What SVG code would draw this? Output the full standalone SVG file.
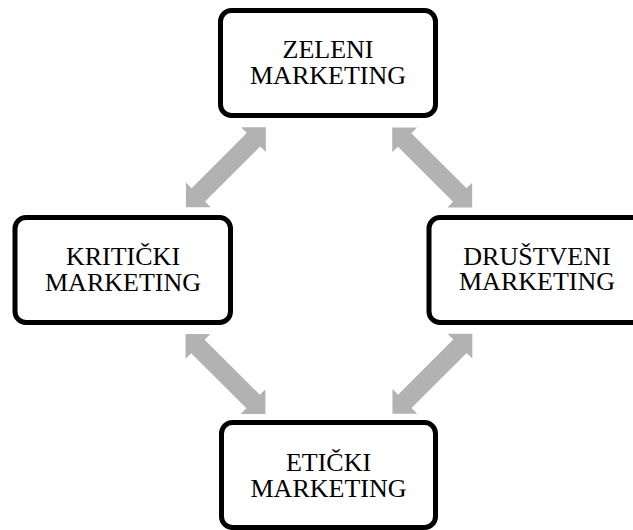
<svg xmlns="http://www.w3.org/2000/svg" width="633" height="530" viewBox="0 0 633 530">
<style>
.box{fill:#ffffff;stroke:#000000;stroke-width:5}
.lbl{font-family:"Liberation Serif","Times New Roman",serif;font-size:26px;fill:#000000;text-anchor:middle}
.arr{fill:#b2b2b2}
</style>
<defs>
<path id="dblarrow" d="M-56.5,0 L-39,-17.5 L-39,-9.5 L39,-9.5 L39,-17.5 L56.5,0 L39,17.5 L39,9.5 L-39,9.5 L-39,17.5 Z"/>
</defs>
<rect width="633" height="530" fill="#ffffff"/>
<g id="connectors">
<use href="#dblarrow" class="arr" transform="translate(225.9,167.3) rotate(-45)"/>
<use href="#dblarrow" class="arr" transform="translate(432.2,167.5) rotate(45)"/>
<use href="#dblarrow" class="arr" transform="translate(225.5,374) rotate(45)"/>
<use href="#dblarrow" class="arr" transform="translate(432.4,373.8) rotate(-45)"/>
</g>
<g id="zeleni">
<rect class="box" x="220.5" y="10.5" width="215" height="105" rx="11"/>
<text class="lbl" x="328" y="58">ZELENI</text>
<text class="lbl" x="328" y="84">MARKETING</text>
</g>
<g id="kriticki">
<rect class="box" x="15" y="217.5" width="215.5" height="105" rx="11"/>
<text class="lbl" x="123" y="265">KRITIČKI</text>
<text class="lbl" x="123" y="290.5">MARKETING</text>
</g>
<g id="drustveni">
<rect class="box" x="429" y="217.5" width="215" height="105" rx="11"/>
<text class="lbl" x="537" y="265">DRUŠTVENI</text>
<text class="lbl" x="537" y="290">MARKETING</text>
</g>
<g id="eticki">
<rect class="box" x="221.5" y="422.5" width="214" height="105" rx="11"/>
<text class="lbl" x="328.5" y="471">ETIČKI</text>
<text class="lbl" x="328.5" y="497">MARKETING</text>
</g>
</svg>
